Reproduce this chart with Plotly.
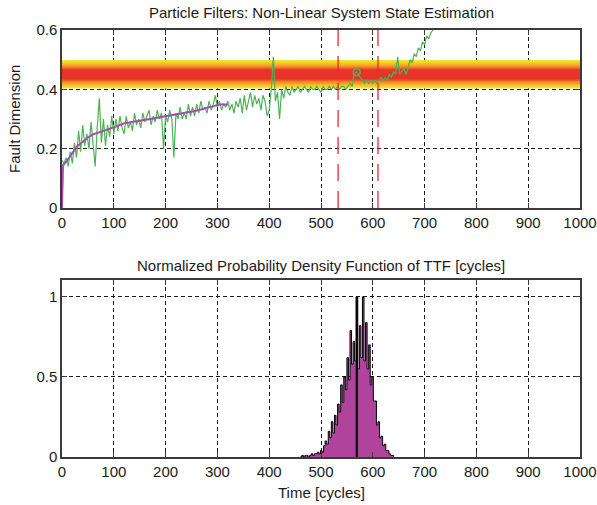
import numpy as np
import plotly.graph_objects as go

# ---------------- data ----------------
# noisy measurement (green), sampled every 4 cycles from 0
green_step = 4
green_y = [
    0.16, 0.15, 0.17, 0.14, 0.19, 0.15, 0.22, 0.17, 0.26, 0.19, 0.28, 0.21, 0.25, 0.20, 0.29, 0.22, 0.14, 0.27, 0.37, 0.22, 0.30, 0.21, 0.28, 0.24, 0.31,
    0.25, 0.30, 0.26, 0.31, 0.27, 0.25, 0.31, 0.27, 0.29, 0.26, 0.32, 0.28, 0.30, 0.27, 0.32, 0.29, 0.31, 0.33, 0.28, 0.31, 0.29, 0.33, 0.30, 0.32, 0.20,
    0.31, 0.29, 0.33, 0.30, 0.17, 0.32, 0.30, 0.34, 0.30, 0.32, 0.30, 0.35, 0.31, 0.34, 0.31, 0.35, 0.32, 0.36, 0.33, 0.34, 0.32, 0.36, 0.33, 0.35, 0.38,
    0.34, 0.36, 0.33, 0.35, 0.34, 0.36, 0.33, 0.35, 0.32, 0.36, 0.34, 0.37, 0.32, 0.38, 0.33, 0.36, 0.39, 0.34, 0.38, 0.35, 0.37, 0.33, 0.38, 0.36, 0.31,
    0.33, 0.40, 0.51, 0.36, 0.39, 0.30, 0.40, 0.37, 0.41, 0.39, 0.38, 0.41, 0.39, 0.40, 0.41, 0.39, 0.40, 0.41, 0.40, 0.39, 0.41, 0.40, 0.40, 0.41, 0.40,
    0.39, 0.41, 0.40, 0.40, 0.41, 0.40, 0.41, 0.40, 0.41, 0.40, 0.41, 0.41, 0.40, 0.41, 0.42, 0.41, 0.45, 0.46, 0.45, 0.44, 0.43, 0.42, 0.43, 0.42, 0.43,
    0.42, 0.43, 0.42, 0.43, 0.44, 0.43, 0.44, 0.43, 0.45, 0.44, 0.46, 0.45, 0.51, 0.45, 0.46, 0.47, 0.45, 0.47, 0.50, 0.49, 0.52, 0.51, 0.54, 0.53, 0.56,
    0.55, 0.58, 0.57, 0.59, 0.60, 0.61,
]

# particle-filter estimate (magenta) and true state (cyan)
est_x = [0, 2, 10, 20, 30, 40, 50, 60, 70, 80, 90, 100, 110, 120, 130, 140, 150, 160, 170,
         180, 190, 200, 210, 220, 230, 240, 250, 260, 270, 280, 290, 300, 310, 320]
est_y = [0, 0.145, 0.16, 0.185, 0.21, 0.222, 0.238, 0.248, 0.255, 0.26, 0.266, 0.272, 0.28, 0.285,
         0.289, 0.291, 0.294, 0.297, 0.3, 0.303, 0.306, 0.31, 0.312, 0.314, 0.318, 0.322, 0.325,
         0.328, 0.333, 0.338, 0.343, 0.347, 0.35, 0.348]
true_y = [0, 0.14, 0.158, 0.188, 0.207, 0.226, 0.236, 0.25, 0.253, 0.262, 0.264, 0.274, 0.278, 0.287,
          0.287, 0.293, 0.292, 0.299, 0.298, 0.305, 0.304, 0.312, 0.31, 0.316, 0.316, 0.324, 0.323,
          0.33, 0.331, 0.34, 0.341, 0.349, 0.348, 0.35]

# loop of the measurement inside the threshold band
loop_x = [569]
loop_y = [0.458]

# failure threshold band (outer to inner layers)
band_lo = [0.403, 0.408, 0.413, 0.420, 0.427, 0.433]
band_hi = [0.499, 0.494, 0.488, 0.480, 0.474, 0.468]
band_colors = ["#efe62c", "#f5d22a", "#f7b428", "#f28f25", "#ec5d29", "#e8332b"]

# TTF confidence bounds (red dashed)
ttf_bounds = [533, 610]

# normalized TTF pdf histogram (bin width 3 cycles, left edges)
hist_width = 3
hist_left = list(range(460, 640, 3))
hist_vals = [0.00, 0.01, 0.00, 0.01, 0.01, 0.00, 0.01, 0.02, 0.01, 0.02, 0.02, 0.03, 0.02, 0.04, 0.03,
             0.07, 0.10, 0.08, 0.16, 0.12, 0.22, 0.15, 0.26, 0.20, 0.33, 0.28, 0.45, 0.34, 0.50, 0.42,
             0.62, 0.48, 0.79, 0.58, 0.72, 0.60, 1.00, 0.55, 0.82, 0.62, 1.00, 0.60, 0.84, 0.55, 0.70,
             0.45, 0.50, 0.35, 0.35, 0.20, 0.22, 0.12, 0.13, 0.07, 0.08, 0.04, 0.04, 0.02, 0.01, 0.01]
ttf_median = 569

x_ticks = [0, 100, 200, 300, 400, 500, 600, 700, 800, 900, 1000]

# ---------------- figure ----------------
fig = go.Figure()
x0, x1 = 0, 1000

for lo, hi, c in zip(band_lo, band_hi, band_colors):
    fig.add_trace(go.Scatter(x=[x0, x1, x1, x0, x0], y=[lo, lo, hi, hi, lo], mode="lines",
                             fill="toself", fillcolor=c, line=dict(width=0), hoverinfo="skip",
                             xaxis="x", yaxis="y", showlegend=False))

gx = np.arange(len(green_y)) * green_step
fig.add_trace(go.Scatter(x=gx, y=green_y, mode="lines", line=dict(color="#4cb255", width=1.2),
                         xaxis="x", yaxis="y", showlegend=False))
fig.add_trace(go.Scatter(x=loop_x, y=loop_y, mode="markers",
                         marker=dict(symbol="circle-open", size=7, color="#4cb255", line=dict(width=1.5)),
                         xaxis="x", yaxis="y", showlegend=False))
fig.add_trace(go.Scatter(x=est_x, y=true_y, mode="lines", line=dict(color="#3fc0d0", width=1.2),
                         xaxis="x", yaxis="y", showlegend=False))
fig.add_trace(go.Scatter(x=est_x, y=est_y, mode="lines", line=dict(color="#b044b0", width=1.8),
                         xaxis="x", yaxis="y", showlegend=False))
for b in ttf_bounds:
    fig.add_trace(go.Scatter(x=[b, b], y=[0, 0.6], mode="lines",
                             line=dict(color="#ee2a2a", width=1.3, dash="17px,10px"),
                             xaxis="x", yaxis="y", showlegend=False))

hx = list(hist_left) + [hist_left[-1] + hist_width]
hy = list(hist_vals) + [0]
fig.add_trace(go.Scatter(x=hx, y=hy, mode="lines", line_shape="hv", fill="tozeroy",
                         fillcolor="#b0439c", line=dict(color="black", width=1),
                         xaxis="x2", yaxis="y2", showlegend=False))
fig.add_trace(go.Scatter(x=[ttf_median, ttf_median], y=[0, max(hist_vals)], mode="lines",
                         line=dict(color="black", width=2), xaxis="x2", yaxis="y2", showlegend=False))

font = dict(family="Liberation Sans, Arial, sans-serif", size=15, color="#1a1a1a")
tick_font = dict(family="Liberation Sans, Arial, sans-serif", size=15, color="#1a1a1a")
axis_common = dict(showline=True, linecolor="#3a3a3a", linewidth=1.5, mirror="ticks",
                   ticks="inside", ticklen=5, tickcolor="#3a3a3a", tickwidth=1,
                   showgrid=True, gridcolor="#1a1a1a", gridwidth=1, griddash="4px,3px",
                   zeroline=False, tickfont=tick_font, automargin=False)

fig.update_layout(
    width=597, height=505, autosize=False, paper_bgcolor="white", plot_bgcolor="white",
    margin=dict(l=62, r=17, t=30, b=48, autoexpand=False),
    font=font,
    xaxis=dict(domain=[0, 1], range=[0, 1000], tickvals=x_ticks, anchor="y", **axis_common),
    yaxis=dict(domain=[0.5831, 1], range=[0, 0.6], tickvals=[0, 0.2, 0.4, 0.6],
               ticktext=["0", "0.2", "0.4", "0.6"], anchor="x", **axis_common),
    xaxis2=dict(domain=[0, 1], range=[0, 1000], tickvals=x_ticks, anchor="y2", **axis_common),
    yaxis2=dict(domain=[0, 0.4145], range=[0, 1.105], tickvals=[0, 0.5, 1],
                ticktext=["0", "0.5", "1"], anchor="x2", **axis_common),
    annotations=[
        dict(text="Particle Filters: Non-Linear System State Estimation", x=0.5, y=1.042,
             xref="paper", yref="paper", showarrow=False, font=font, xanchor="center", yanchor="middle"),
        dict(text="Normalized Probability Density Function of TTF [cycles]", x=0.5, y=0.4496,
             xref="paper", yref="paper", showarrow=False, font=font, xanchor="center", yanchor="middle"),
        dict(text="Time [cycles]", x=0.5, y=-0.082, xref="paper", yref="paper", showarrow=False,
             font=font, xanchor="center", yanchor="middle"),
        dict(text="Fault Dimension", x=-0.0907, y=0.7916, xref="paper", yref="paper", showarrow=False,
             font=font, textangle=-90, xanchor="center", yanchor="middle"),
    ],
)

# remove the default page margin so the figure sits at the window's top-left corner
fig.write_html(
    "out.html",
    config={"displayModeBar": False, "responsive": False},
    post_script="document.body.style.margin='0px';document.body.style.overflow='hidden';",
)
